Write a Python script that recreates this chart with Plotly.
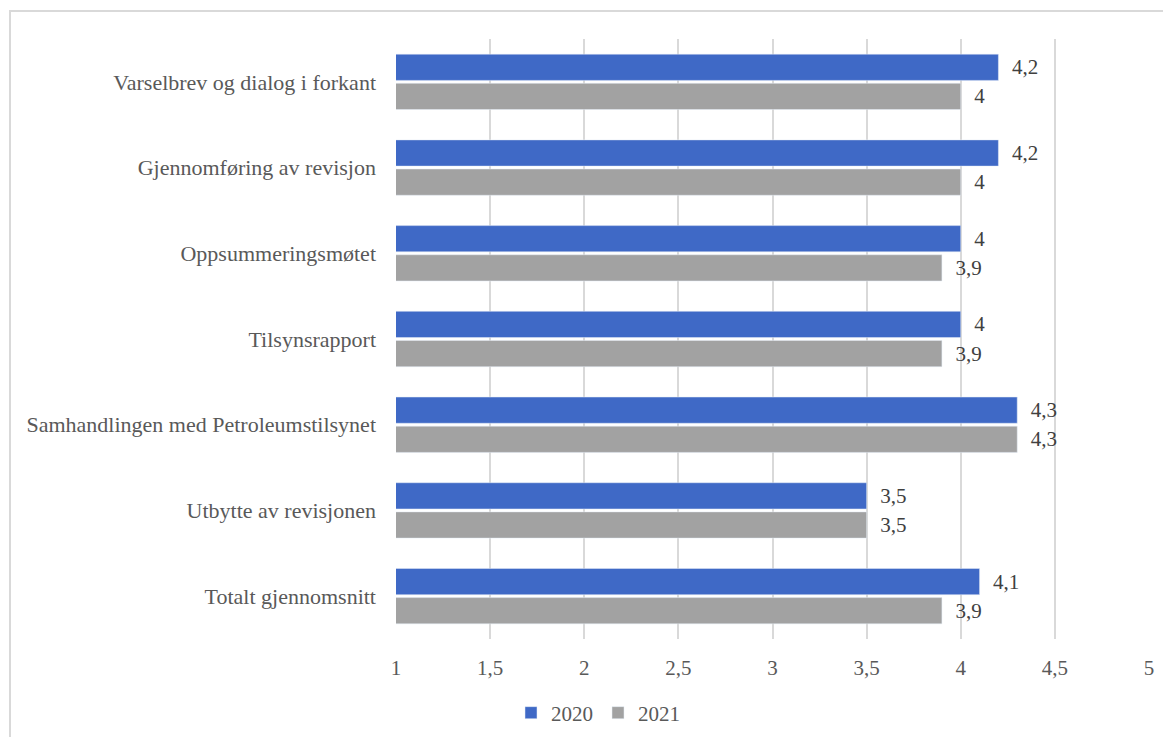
import plotly.graph_objects as go

categories = [
    "Varselbrev og dialog i forkant",
    "Gjennomføring av revisjon",
    "Oppsummeringsmøtet",
    "Tilsynsrapport",
    "Samhandlingen med Petroleumstilsynet",
    "Utbytte av revisjonen",
    "Totalt gjennomsnitt",
]
values_2020 = [4.2, 4.2, 4.0, 4.0, 4.3, 3.5, 4.1]
values_2021 = [4.0, 4.0, 3.9, 3.9, 4.3, 3.5, 3.9]
x_ticks = [1, 1.5, 2, 2.5, 3, 3.5, 4, 4.5, 5]
x_tick_labels = ["1", "1,5", "2", "2,5", "3", "3,5", "4", "4,5", "5"]

FONT = "Liberation Serif"


def fmt(v):
    s = ("%g" % v).replace(".", ",")
    return "\u00a0\u00a0" + s


fig = go.Figure()
fig.add_trace(go.Bar(
    name="2020", y=categories, x=values_2020, orientation="h",
    marker=dict(color="#3F69C6"),
    text=[fmt(v) for v in values_2020], textposition="outside",
    textfont=dict(family=FONT, size=21, color="#404040"),
    cliponaxis=False,
))
fig.add_trace(go.Bar(
    name="2021", y=categories, x=values_2021, orientation="h",
    marker=dict(color="#A2A2A2"),
    text=[fmt(v) for v in values_2021], textposition="outside",
    textfont=dict(family=FONT, size=21, color="#404040"),
    cliponaxis=False,
))

# page is rendered with an 8px body margin; compensate
OFF = 8
W, H = 1171 - OFF, 737 - OFF
L, T = 396 - OFF, 39 - OFF
R = W - (1149 - OFF)
B = H - (639 - OFF)
pw, ph = W - L - R, H - T - B


def px_x(px):
    return (px - OFF - L) / pw


def px_y(py):
    return (H - B - (py - OFF)) / ph


fig.update_layout(
    width=W, height=H,
    margin=dict(l=L, r=R, t=T, b=B, autoexpand=False),
    paper_bgcolor="white", plot_bgcolor="white",
    barmode="group", bargap=0.32, bargroupgap=0.1,
    font=dict(family=FONT, size=21, color="#595959"),
    separators=", ",
    legend=dict(
        orientation="h", xref="container", yref="container",
        x=(598 - OFF) / W, xanchor="center",
        y=(H - (713 - OFF)) / H, yanchor="middle",
        font=dict(family=FONT, size=21, color="#595959"),
        traceorder="normal", itemwidth=30,
    ),
    showlegend=True,
    shapes=[dict(
        type="rect", xref="paper", yref="paper",
        x0=px_x(10), x1=px_x(1190),
        y0=px_y(760), y1=px_y(11),
        line=dict(color="#D9D9D9", width=2), fillcolor="rgba(0,0,0,0)",
        layer="below",
    )],
)
fig.update_xaxes(
    range=[1, 5], tickvals=x_ticks, ticktext=x_tick_labels,
    showgrid=True, gridcolor="#D9D9D9", gridwidth=2,
    zeroline=False, showline=False,
    tickfont=dict(family=FONT, size=21, color="#595959"),
    ticks="", ticklabelstandoff=14,
)
fig.update_yaxes(
    autorange="reversed", showgrid=False, showline=False,
    ticks="", ticklabelstandoff=19,
    tickfont=dict(family=FONT, size=22, color="#595959"),
)

fig.write_html("out.html")
